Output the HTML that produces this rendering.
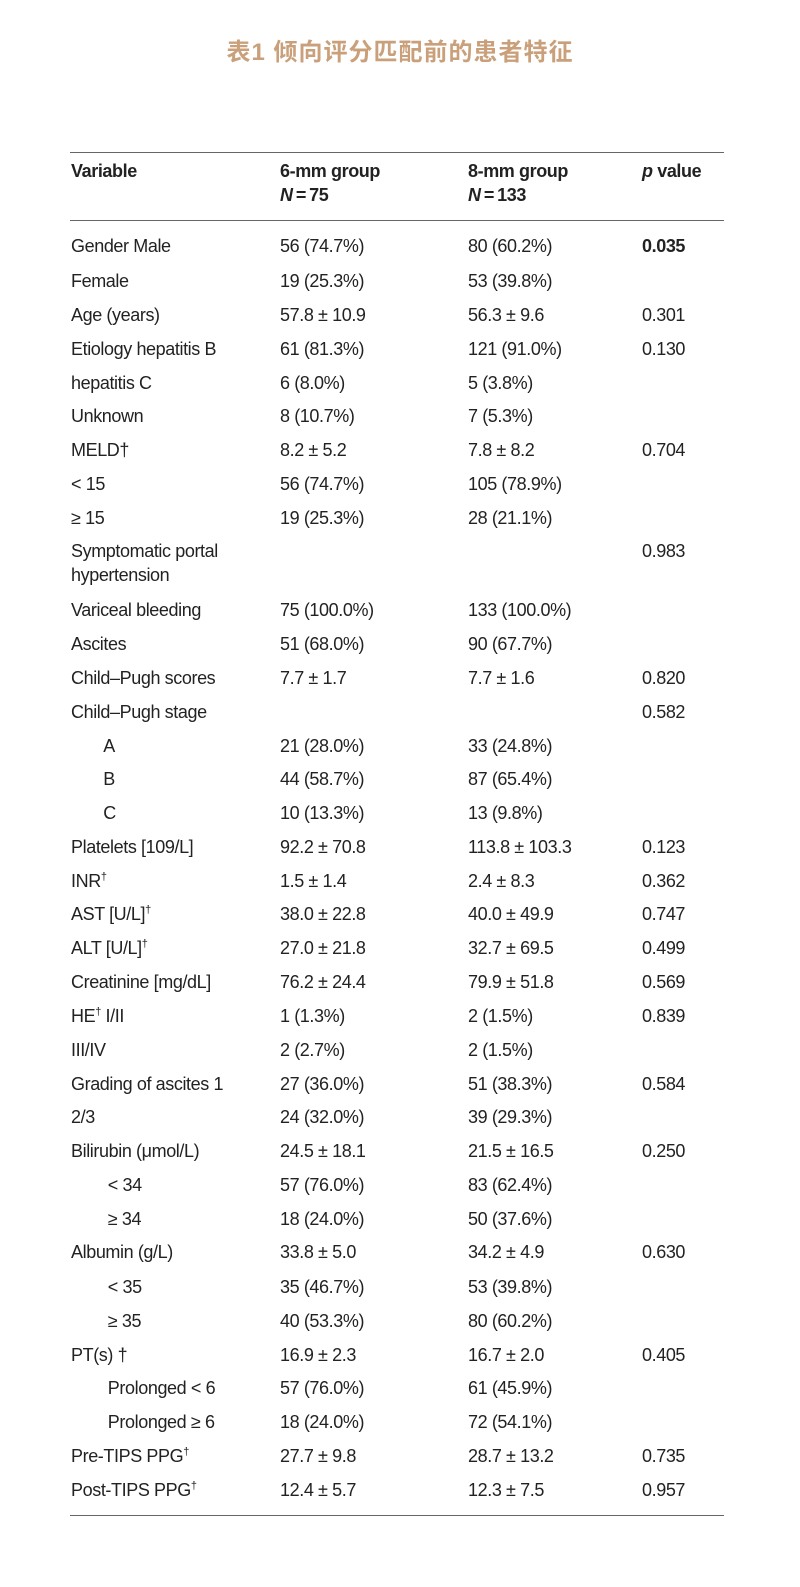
<!DOCTYPE html>
<html><head><meta charset="utf-8"><style>
body{margin:0;background:#fff;width:800px;height:1587px;position:relative;font-family:"Liberation Sans","Noto Sans CJK SC",sans-serif;color:#222;}
.t{position:absolute;left:0;width:800px;top:32px;text-align:center;font-size:24px;color:#c9a07a;font-family:"Liberation Sans","Noto Sans CJK SC",sans-serif;font-weight:bold;letter-spacing:1px}
.ln{position:absolute;left:70px;width:654px;height:1px;background:#666}
.r{position:absolute;font-size:18px;letter-spacing:-0.4px;white-space:nowrap;line-height:24px}
.r sup{font-size:11px;line-height:0;vertical-align:7px}
.h{font-weight:bold;}
</style></head><body>
<div class="t">表1 倾向评分匹配前的患者特征</div>
<div class="ln" style="top:152px"></div>
<div class="ln" style="top:220px"></div>
<div class="ln" style="top:1515px"></div>
<div class="r h" style="left:71px;top:159px">Variable</div>
<div class="r h" style="left:280px;top:159px">6-mm group<br><i>N</i>&thinsp;=&thinsp;75</div>
<div class="r h" style="left:468px;top:159px">8-mm group<br><i>N</i>&thinsp;=&thinsp;133</div>
<div class="r h" style="left:642px;top:159px"><i>p</i> value</div>
<div id="rows"></div>
<script>
var R=[
[246,"Gender Male","56 (74.7%)","80 (60.2%)","<b>0.035</b>"],
[281,"Female","19 (25.3%)","53 (39.8%)",""],
[315,"Age (years)","57.8 ± 10.9","56.3 ± 9.6","0.301"],
[349,"Etiology hepatitis B","61 (81.3%)","121 (91.0%)","0.130"],
[383,"hepatitis C","6 (8.0%)","5 (3.8%)",""],
[416,"Unknown","8 (10.7%)","7 (5.3%)",""],
[450,"MELD†","8.2 ± 5.2","7.8 ± 8.2","0.704"],
[484,"&lt; 15","56 (74.7%)","105 (78.9%)",""],
[518,"≥ 15","19 (25.3%)","28 (21.1%)",""],
[551,"Symptomatic portal<br>hypertension","","","0.983"],
[610,"Variceal bleeding","75 (100.0%)","133 (100.0%)",""],
[644,"Ascites","51 (68.0%)","90 (67.7%)",""],
[678,"Child–Pugh scores","7.7 ± 1.7","7.7 ± 1.6","0.820"],
[712,"Child–Pugh stage","","","0.582"],
[746,"&nbsp;&nbsp;&nbsp;&nbsp;&nbsp;&nbsp;&nbsp;A","21 (28.0%)","33 (24.8%)",""],
[779,"&nbsp;&nbsp;&nbsp;&nbsp;&nbsp;&nbsp;&nbsp;B","44 (58.7%)","87 (65.4%)",""],
[813,"&nbsp;&nbsp;&nbsp;&nbsp;&nbsp;&nbsp;&nbsp;C","10 (13.3%)","13 (9.8%)",""],
[847,"Platelets [109/L]","92.2 ± 70.8","113.8 ± 103.3","0.123"],
[881,"INR<sup>†</sup>","1.5 ± 1.4","2.4 ± 8.3","0.362"],
[914,"AST [U/L]<sup>†</sup>","38.0 ± 22.8","40.0 ± 49.9","0.747"],
[948,"ALT [U/L]<sup>†</sup>","27.0 ± 21.8","32.7 ± 69.5","0.499"],
[982,"Creatinine [mg/dL]","76.2 ± 24.4","79.9 ± 51.8","0.569"],
[1016,"HE<sup>†</sup> I/II","1 (1.3%)","2 (1.5%)","0.839"],
[1050,"III/IV","2 (2.7%)","2 (1.5%)",""],
[1084,"Grading of ascites 1","27 (36.0%)","51 (38.3%)","0.584"],
[1117,"2/3","24 (32.0%)","39 (29.3%)",""],
[1151,"Bilirubin (μmol/L)","24.5 ± 18.1","21.5 ± 16.5","0.250"],
[1185,"&nbsp;&nbsp;&nbsp;&nbsp;&nbsp;&nbsp;&nbsp;&nbsp;&lt; 34","57 (76.0%)","83 (62.4%)",""],
[1219,"&nbsp;&nbsp;&nbsp;&nbsp;&nbsp;&nbsp;&nbsp;&nbsp;≥ 34","18 (24.0%)","50 (37.6%)",""],
[1252,"Albumin (g/L)","33.8 ± 5.0","34.2 ± 4.9","0.630"],
[1287,"&nbsp;&nbsp;&nbsp;&nbsp;&nbsp;&nbsp;&nbsp;&nbsp;&lt; 35","35 (46.7%)","53 (39.8%)",""],
[1321,"&nbsp;&nbsp;&nbsp;&nbsp;&nbsp;&nbsp;&nbsp;&nbsp;≥ 35","40 (53.3%)","80 (60.2%)",""],
[1355,"PT(s) †","16.9 ± 2.3","16.7 ± 2.0","0.405"],
[1388,"&nbsp;&nbsp;&nbsp;&nbsp;&nbsp;&nbsp;&nbsp;&nbsp;Prolonged &lt; 6","57 (76.0%)","61 (45.9%)",""],
[1422,"&nbsp;&nbsp;&nbsp;&nbsp;&nbsp;&nbsp;&nbsp;&nbsp;Prolonged ≥ 6","18 (24.0%)","72 (54.1%)",""],
[1456,"Pre-TIPS PPG<sup>†</sup>","27.7 ± 9.8","28.7 ± 13.2","0.735"],
[1490,"Post-TIPS PPG<sup>†</sup>","12.4 ± 5.7","12.3 ± 7.5","0.957"]];
var h="";R.forEach(function(r){var y=r[0]-12;
h+="<div class='r' style='left:71px;top:"+y+"px'>"+r[1]+"</div><div class='r' style='left:280px;top:"+y+"px'>"+r[2]+"</div><div class='r' style='left:468px;top:"+y+"px'>"+r[3]+"</div><div class='r' style='left:642px;top:"+y+"px'>"+r[4]+"</div>";});
document.getElementById("rows").innerHTML=h;
</script>
</body></html>
